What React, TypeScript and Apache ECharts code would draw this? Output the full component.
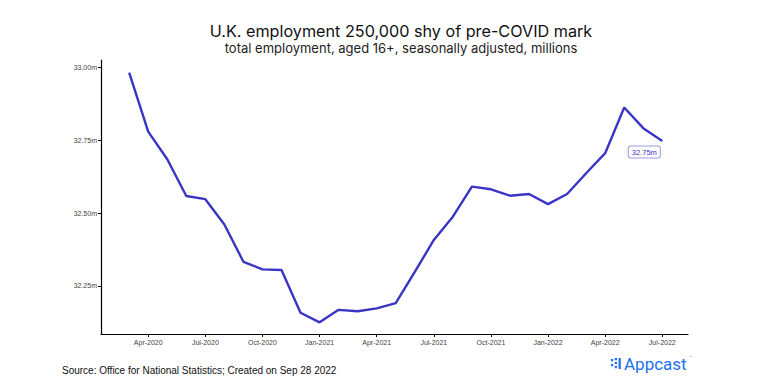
import React, { useEffect, useRef } from "react";
import * as echarts from "echarts";

const months: string[] = [
  "2020-03", "2020-04", "2020-05", "2020-06", "2020-07", "2020-08", "2020-09", "2020-10", "2020-11", "2020-12",
  "2021-01", "2021-02", "2021-03", "2021-04", "2021-05", "2021-06", "2021-07", "2021-08", "2021-09", "2021-10",
  "2021-11", "2021-12", "2022-01", "2022-02", "2022-03", "2022-04", "2022-05", "2022-06", "2022-07",
];
const employment: number[] = [
  32.983, 32.78, 32.685, 32.559, 32.548, 32.461, 32.333, 32.307, 32.305, 32.158,
  32.125, 32.168, 32.163, 32.173, 32.191, 32.298, 32.408, 32.488, 32.591, 32.582,
  32.56, 32.566, 32.531, 32.566, 32.637, 32.706, 32.863, 32.792, 32.748,
];
const xTickLabels: string[] = [
  "Apr-2020", "Jul-2020", "Oct-2020", "Jan-2021", "Apr-2021", "Jul-2021", "Oct-2021", "Jan-2022", "Apr-2022", "Jul-2022",
];
const yTicks: number[] = [32.25, 32.5, 32.75, 33.0];

const MON = ["Jan", "Feb", "Mar", "Apr", "May", "Jun", "Jul", "Aug", "Sep", "Oct", "Nov", "Dec"];
const monthIndex = (s: string) => {
  const [y, m] = s.split("-").map(Number);
  return (y - 2020) * 12 + (m - 1);
};
const labelIndex = (s: string) => {
  const [mn, y] = s.split("-");
  return (Number(y) - 2020) * 12 + MON.indexOf(mn);
};

const LINE = "#3b35c6";

export default function App() {
  const ref = useRef<HTMLDivElement>(null);
  useEffect(() => {
    if (!ref.current) return;
    const chart = echarts.init(ref.current, undefined, { renderer: "svg" });
    const xTickVals = xTickLabels.map(labelIndex);
    const labelMap: Record<number, string> = {};
    xTickLabels.forEach((l) => (labelMap[labelIndex(l)] = l));
    const data = months.map((m, i) => [monthIndex(m), employment[i]]);
    const last = data[data.length - 1];
    chart.setOption({
      animation: false,
      backgroundColor: "#ffffff",
      grid: { left: 101, right: 84, top: 60, bottom: 54, containLabel: false },
      xAxis: {
        type: "value",
        min: 0.52,
        max: 31.35,
        splitLine: { show: false },
        axisLine: { show: true, onZero: false, lineStyle: { color: "#000", width: 1.2 } },
        axisTick: { show: true, length: 3, customValues: xTickVals, lineStyle: { color: "#000" } },
        axisLabel: {
          customValues: xTickVals,
          formatter: (v: number) => labelMap[Math.round(v)] || "",
          color: "#444",
          fontSize: 7,
          fontFamily: "Liberation Sans, Arial, sans-serif",
          margin: 5,
        },
      },
      yAxis: {
        type: "value",
        min: 32.085,
        max: 33.026,
        splitLine: { show: false },
        axisLine: { show: true, lineStyle: { color: "#000", width: 1.2 } },
        axisTick: { show: true, length: 3, customValues: yTicks, lineStyle: { color: "#000" } },
        axisLabel: {
          customValues: yTicks,
          formatter: (v: number) => v.toFixed(2) + "m",
          color: "#444",
          fontSize: 7,
          fontFamily: "Liberation Sans, Arial, sans-serif",
          margin: 4,
        },
      },
      series: [
        {
          type: "line",
          data,
          showSymbol: false,
          symbol: "none",
          lineStyle: { color: LINE, width: 2.4 },
          itemStyle: { color: LINE },
          markPoint: {
            symbol: "circle",
            symbolSize: 1,
            itemStyle: { color: "rgba(0,0,0,0)" },
            data: [
              {
                coord: last,
                value: last[1],
                label: {
                  show: true,
                  position: "bottom",
                  distance: 5,
                  offset: [-18, 0],
                  formatter: (p: any) => Number(p.value).toFixed(2) + "m",
                  color: LINE,
                  fontFamily: "Liberation Sans, Arial, sans-serif",
                  fontSize: 7.5,
                  backgroundColor: "#ffffff",
                  borderColor: "#9a97e3",
                  borderWidth: 1,
                  borderRadius: 2,
                  padding: [2, 3, 1, 3],
                },
              },
            ],
          },
        },
      ],
      graphic: [
        {
          type: "text",
          style: {
            text: "U.K. employment 250,000 shy of pre-COVID mark",
            x: 401,
            y: 31,
            align: "center",
            verticalAlign: "middle",
            fontFamily: "Inter, sans-serif",
            fontSize: 16.2,
            fill: "#111",
          },
        },
        {
          type: "text",
          style: {
            text: "total employment, aged 16+, seasonally adjusted, millions",
            x: 401,
            y: 48,
            align: "center",
            verticalAlign: "middle",
            fontFamily: "Inter, sans-serif",
            fontSize: 13,
            fill: "#222",
          },
        },
        {
          type: "text",
          style: {
            text: "Source: Office for National Statistics; Created on Sep 28 2022",
            x: 62,
            y: 370,
            align: "left",
            verticalAlign: "middle",
            fontFamily: "Liberation Sans, Arial, sans-serif",
            fontSize: 10,
            fill: "#111",
          },
        },
        { type: "rect", shape: { x: 611, y: 359, width: 2.2, height: 2.2 }, style: { fill: "#1e6ff0" } },
        { type: "rect", shape: { x: 611, y: 364, width: 2.2, height: 2.2 }, style: { fill: "#1e6ff0" } },
        { type: "rect", shape: { x: 614.8, y: 358, width: 2.2, height: 2.2 }, style: { fill: "#1e6ff0" } },
        { type: "rect", shape: { x: 614.8, y: 362, width: 2.2, height: 2.2 }, style: { fill: "#1e6ff0" } },
        { type: "rect", shape: { x: 614.8, y: 366, width: 2.2, height: 2.2 }, style: { fill: "#1e6ff0" } },
        { type: "rect", shape: { x: 618.6, y: 358, width: 2.2, height: 11 }, style: { fill: "#1e6ff0" } },
        {
          type: "text",
          style: {
            text: "Appcast",
            x: 624,
            y: 364,
            align: "left",
            verticalAlign: "middle",
            fontFamily: "Roboto, sans-serif",
            fontSize: 17,
            fill: "#1e6ff0",
          },
        },
        {
          type: "text",
          style: {
            text: "™",
            x: 689,
            y: 357,
            align: "left",
            verticalAlign: "middle",
            fontFamily: "Roboto, sans-serif",
            fontSize: 5,
            fill: "#888",
          },
        },
      ],
    });
    return () => chart.dispose();
  }, []);
  return (
    <div
      ref={ref}
      style={{ position: "fixed", left: 0, top: 0, width: 772, height: 388 }}
    />
  );
}
